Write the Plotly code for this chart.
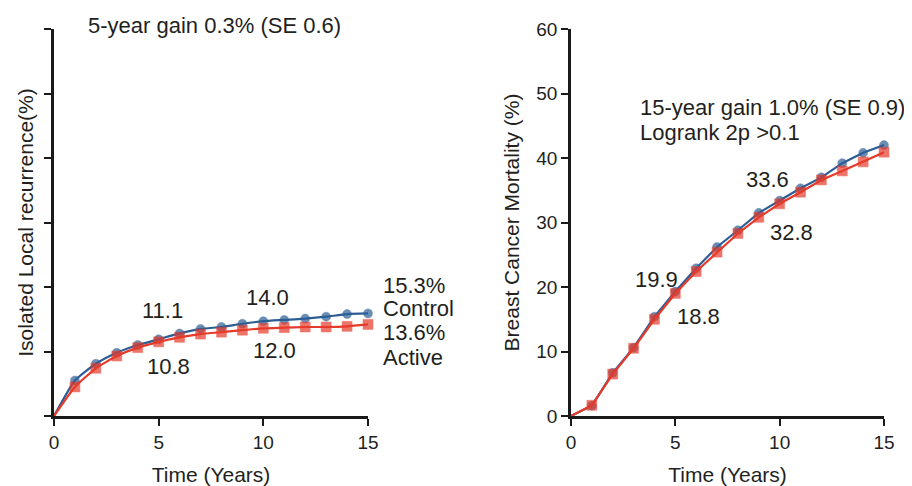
import plotly.graph_objects as go

years = list(range(0, 16))

# Left panel: isolated local recurrence (%)
lr_control = [0, 5.5, 8.1, 9.8, 11.0, 11.9, 12.8, 13.5, 13.8, 14.3, 14.7, 14.9, 15.1, 15.4, 15.8, 15.9]
lr_active = [0, 4.5, 7.4, 9.3, 10.6, 11.5, 12.2, 12.7, 13.0, 13.3, 13.6, 13.7, 13.8, 13.8, 13.9, 14.2]

# Right panel: breast cancer mortality (%)
bc_control = [0, 1.6, 6.7, 10.6, 15.4, 19.3, 22.9, 26.2, 28.8, 31.5, 33.4, 35.3, 37.0, 39.2, 40.8, 42.0]
bc_active = [0, 1.66, 6.5, 10.5, 15.0, 19.0, 22.4, 25.4, 28.3, 30.8, 32.9, 34.7, 36.6, 38.0, 39.4, 40.9]

x_ticks = [0, 5, 10, 15]
y_ticks = [0, 10, 20, 30, 40, 50, 60]

BLUE = "#2c5d95"
RED = "#e63a2a"
TXT = "#231f20"
FONT = "Liberation Sans, Arial, sans-serif"

W, H = 904, 478   # page body has an 8px margin
OFF = 8

fig = go.Figure()


def add_pair(ctrl, act, xa, ya, shape):
    fig.add_trace(go.Scatter(
        x=years, y=ctrl, xaxis=xa, yaxis=ya, mode="lines+markers",
        line=dict(color=BLUE, width=2.2, shape=shape, smoothing=0.5),
        marker=dict(symbol="circle", size=[0] + [9] * 15, color=BLUE,
                    line=dict(color=BLUE, width=0.5)),
        showlegend=False, cliponaxis=False))
    fig.add_trace(go.Scatter(
        x=years, y=act, xaxis=xa, yaxis=ya, mode="lines+markers",
        line=dict(color=RED, width=2.2, shape=shape, smoothing=0.5),
        marker=dict(symbol="square", size=[0] + [10] * 15, color=RED,
                    line=dict(color=RED, width=0.5)),
        showlegend=False, cliponaxis=False))


add_pair(lr_control, lr_active, "x", "y", "spline")
add_pair(bc_control, bc_active, "x2", "y2", "linear")

ydom = [1 - (416 - OFF) / H, 1 - (29 - OFF) / H]

axis_common = dict(
    showgrid=False, zeroline=False, showline=True, linecolor="#1a1a1a", linewidth=2.5,
    ticks="outside", ticklen=7, tickwidth=1.5, tickcolor="#1a1a1a",
    tickfont=dict(size=19, color=TXT, family=FONT), automargin=False,
)

fig.update_layout(
    width=W, height=H,
    margin=dict(l=0, r=0, t=0, b=0),
    paper_bgcolor="white", plot_bgcolor="white",
    font=dict(family=FONT, color=TXT),
    xaxis=dict(domain=[(54 - OFF) / W, (368 - OFF) / W], range=[0, 15], tickvals=x_ticks, anchor="y",
               title=dict(text="Time (Years)", font=dict(size=21, color=TXT), standoff=17), **axis_common),
    yaxis=dict(domain=ydom, range=[0, 60], tickvals=y_ticks, showticklabels=False, anchor="x",
               title=dict(text="Isolated Local recurrence(%)", font=dict(size=21, color=TXT), standoff=5), **axis_common),
    xaxis2=dict(domain=[(571 - OFF) / W, (884 - OFF) / W], range=[0, 15], tickvals=x_ticks, anchor="y2",
                title=dict(text="Time (Years)", font=dict(size=21, color=TXT), standoff=17), **axis_common),
    yaxis2=dict(domain=ydom, range=[0, 60], tickvals=y_ticks, anchor="x2",
                title=dict(text="Breast Cancer Mortality (%)", font=dict(size=21, color=TXT), standoff=11), **axis_common),
)

# (axis suffix, x in data units, y in data units, text, anchor)
ann = [
    ("", 1.53, 60.5, "5-year gain 0.3% (SE 0.6)", "left"),
    ("", 5.16, 16.4, "11.1", "center"),
    ("", 10.22, 18.3, "14.0", "center"),
    ("", 5.49, 7.75, "10.8", "center"),
    ("", 10.51, 10.2, "12.0", "center"),
    ("", 15.62, 20.3, "15.3%", "left"),
    ("", 15.62, 16.6, "Control", "left"),
    ("", 15.62, 12.9, "13.6%", "left"),
    ("", 15.62, 9.0, "Active", "left"),
    ("2", 3.21, 47.9, "15-year gain 1.0% (SE 0.9)", "left"),
    ("2", 3.21, 44.0, "Logrank 2p >0.1", "left"),
    ("2", 9.44, 36.7, "33.6", "center"),
    ("2", 10.59, 28.5, "32.8", "center"),
    ("2", 4.12, 21.2, "19.9", "center"),
    ("2", 6.09, 15.5, "18.8", "center"),
]
for sfx, x, y, t, anc in ann:
    fig.add_annotation(x=x / 15, y=y / 60, xref=f"x{sfx} domain", yref=f"y{sfx} domain",
                       text=t, showarrow=False, xanchor=anc, yanchor="middle",
                       font=dict(size=22, color=TXT, family=FONT))

fig.write_html("out.html")
